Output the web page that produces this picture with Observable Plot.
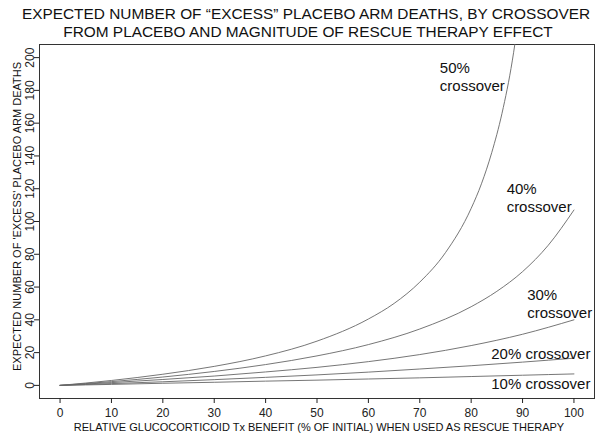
<!DOCTYPE html>
<html><head><meta charset="utf-8">
<script src="https://cdn.jsdelivr.net/npm/d3@7"></script>
<script src="https://cdn.jsdelivr.net/npm/@observablehq/plot@0.6"></script>
<style>
body{margin:0;background:#fff;}
#chart{width:600px;height:440px;font-family:"Liberation Sans",Arial,sans-serif;background:#fff;}
#chart svg{display:block;}
</style></head><body><div id="chart"></div>
<script>
// ---- text ----
const titleLines = [
  "EXPECTED NUMBER OF \u201CEXCESS\u201D PLACEBO ARM DEATHS, BY CROSSOVER",
  "FROM PLACEBO AND MAGNITUDE OF RESCUE THERAPY EFFECT"
];
const xTitle = "RELATIVE GLUCOCORTICOID Tx BENEFIT (% OF INITIAL) WHEN USED AS RESCUE THERAPY";
const yTitle = "EXPECTED NUMBER OF 'EXCESS' PLACEBO ARM DEATHS";

// ---- ticks ----
const xTicks = [0, 10, 20, 30, 40, 50, 60, 70, 80, 90, 100];
const yTicks = [0, 20, 40, 60, 80, 100, 120, 140, 160, 180, 200];

// ---- series (benefit % -> expected excess deaths) ----
const x10 = [0, 10, 20, 30, 40, 50, 60, 70, 80, 90, 100];
const y10 = [0, 0.6, 1.3, 1.9, 2.6, 3.2, 3.9, 4.6, 5.4, 6.2, 7.0];

const x20 = [0, 10, 20, 30, 40, 50, 60, 70, 80, 90, 100];
const y20 = [0, 1.1, 2.2, 3.5, 4.9, 6.4, 8.1, 10.0, 12.0, 14.2, 16.6];

const x30 = [0, 10, 20, 30, 40, 50, 60, 70, 80, 90, 100];
const y30 = [0, 1.7, 3.6, 5.7, 8.2, 11.0, 14.5, 18.8, 24.3, 31.2, 40.0];

const x40 = [0, 10, 20, 30, 40, 50, 60, 70, 80, 85, 90, 95, 100];
const y40 = [0, 2.3, 5.1, 8.5, 12.7, 18.0, 24.9, 34.4, 48.0, 57.4, 69.4, 85.5, 107];

const x50 = [0, 10, 20, 30, 40, 50, 60, 65, 70, 75, 80, 82, 84, 86, 88, 90];
const y50 = [0, 3.0, 6.8, 11.6, 18.0, 27.0, 40.5, 50.0, 63.0, 81.0, 108, 123, 142, 166, 198, 243];

const seriesNames = ["10%", "20%", "30%", "40%", "50%"];
const seriesX = [x10, x20, x30, x40, x50];
const seriesY = [y10, y20, y30, y40, y50];

// ---- curve labels ----
const labelText = ["50%\ncrossover", "40%\ncrossover", "30%\ncrossover", "20% crossover", "10% crossover"];
const labelX = [73.9, 86.9, 90.9, 83.9, 83.9];
const labelY = [179.9, 105.7, 41.1, 15.9, -2.5];

// ---- build tables ----
const curveRows = seriesNames.flatMap((s, i) => seriesX[i].map((x, j) => ({series: s, x, y: seriesY[i][j]})));
const labelRows = labelText.map((t, i) => ({text: t, x: labelX[i], y: labelY[i]}));

const font = "'Liberation Sans', Arial, sans-serif";
const root = document.getElementById("chart");

// title (above the plot SVG)
const tsvg = d3.create("svg").attr("width", 600).attr("height", 43)
  .style("font-family", font).style("display", "block");
tsvg.append("text").attr("x", 306).attr("y", 19).attr("text-anchor", "middle")
  .attr("font-size", 15.4).attr("fill", "#111").text(titleLines[0]);
tsvg.append("text").attr("x", 308).attr("y", 36.5).attr("text-anchor", "middle")
  .attr("font-size", 15.4).attr("fill", "#111").text(titleLines[1]);
root.appendChild(tsvg.node());

const chart = Plot.plot({
  width: 600,
  height: 397,
  marginTop: 1,
  marginRight: 6,
  marginBottom: 42,
  marginLeft: 39,
  style: {fontFamily: font, fontSize: "12px", color: "#222", background: "#fff", overflow: "visible"},
  x: {domain: [-4, 104]},
  y: {domain: [-8, 208]},
  marks: [
    Plot.frame({stroke: "#333"}),
    Plot.axisX({ticks: xTicks, tickSize: 5, tickPadding: 5, label: null, fontSize: 12}),
    Plot.axisY({ticks: yTicks, tickSize: 5, tickPadding: 1, tickRotate: -90, label: null, fontSize: 12}),
    Plot.line(curveRows, {x: "x", y: "y", z: "series", stroke: "#666", strokeWidth: 0.9, curve: "monotone-x", clip: true}),
    Plot.text(labelRows, {x: "x", y: "y", text: "text", textAnchor: "start", lineAnchor: "bottom", lineHeight: 1.2, fontSize: 15, fill: "#111"}),
    Plot.text([xTitle], {text: d => d, frameAnchor: "bottom", textAnchor: "middle", dx: 2, dy: 32, lineAnchor: "bottom", fontSize: 11, fill: "#111"}),
    Plot.text([yTitle], {text: d => d, frameAnchor: "left", textAnchor: "middle", rotate: -90, dx: -19, dy: -5, lineAnchor: "bottom", fontSize: 11, fill: "#111"})
  ]
});
root.appendChild(chart);
</script>
</body></html>
